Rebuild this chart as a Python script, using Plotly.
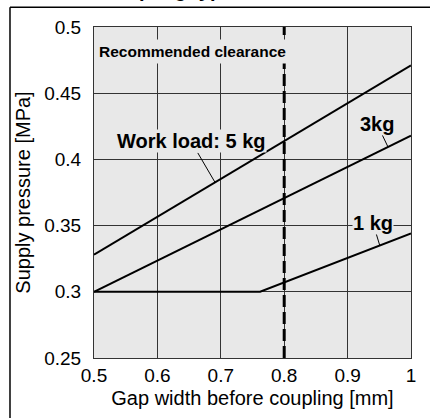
import plotly.graph_objects as go

# ---- data ----
x_5kg = [0.5, 1.0]
y_5kg = [0.328, 0.471]
x_3kg = [0.5, 1.0]
y_3kg = [0.300, 0.418]
x_1kg = [0.5, 0.762, 1.0]
y_1kg = [0.300, 0.300, 0.344]
recommended_gap = 0.8
x_ticks = [0.5, 0.6, 0.7, 0.8, 0.9, 1.0]
x_ticklabels = ["0.5", "0.6", "0.7", "0.8", "0.9", "1"]
y_ticks = [0.25, 0.3, 0.35, 0.4, 0.45, 0.5]
y_ticklabels = ["0.25", "0.3", "0.35", "0.4", "0.45", "0.5"]

FONT = "Liberation Sans, Arial, Helvetica, sans-serif"
NARROW = "Liberation Sans Narrow, Arial Narrow, Liberation Sans, sans-serif"
BG = "#e8e8e8"

fig = go.Figure()
for xs, ys in [(x_5kg, y_5kg), (x_3kg, y_3kg), (x_1kg, y_1kg)]:
    fig.add_trace(go.Scatter(x=xs, y=ys, mode="lines",
                             line=dict(color="black", width=2),
                             showlegend=False, hoverinfo="skip"))

# recommended clearance dashed line
fig.add_shape(type="line", xref="x", yref="paper", x0=recommended_gap, x1=recommended_gap,
              y0=0, y1=1, line=dict(color="black", width=3, dash="12px,5px"))

# outer frame
fig.add_shape(type="line", xref="paper", yref="paper", x0=-0.265, x1=1.1, y0=1.0597, y1=1.0597,
              line=dict(color="black", width=1.5))
fig.add_shape(type="line", xref="paper", yref="paper", x0=-0.265, x1=-0.265, y0=1.0597, y1=-0.2,
              line=dict(color="black", width=1.5))

ann_font = dict(family=FONT, size=20, color="black")
fig.add_annotation(x=0.0, xref="paper", y=0.925, yref="paper", xanchor="left", yanchor="middle",
                   text="<b>Recommended clearance</b>", showarrow=False,
                   font=dict(family=NARROW, size=15.5, color="black"), bgcolor=BG, borderpad=3, xshift=1)
fig.add_annotation(x=0.691, y=0.3826, ax=-24, ay=-41, text="<b>Work load: 5 kg</b>",
                   showarrow=True, arrowhead=0, arrowwidth=1, arrowcolor="black",
                   font=ann_font, bgcolor=BG, borderpad=0)
fig.add_annotation(x=0.9637, y=0.4094, ax=-11, ay=-23, text="<b>3kg</b>",
                   showarrow=True, arrowhead=0, arrowwidth=1, arrowcolor="black",
                   font=ann_font, bgcolor=BG, borderpad=0)
fig.add_annotation(x=0.951, y=0.3346, ax=-7, ay=-23, text="<b>1 kg</b>",
                   showarrow=True, arrowhead=0, arrowwidth=1, arrowcolor="black",
                   font=ann_font, bgcolor=BG, borderpad=0)

# title (mostly cut off at top of the picture, as in the reference)
fig.add_annotation(x=(98 - 94) / 317, xref="paper", y=1.0735, yref="paper",
                   xanchor="left", yanchor="bottom",
                   text="<b>Coupling type</b>", showarrow=False, font=ann_font)

fig.update_xaxes(range=[0.5, 1.0], tickvals=x_ticks, ticktext=x_ticklabels,
                 showgrid=True, gridcolor="#333333", gridwidth=1,
                 showline=True, linecolor="#333333", linewidth=1, mirror=True,
                 zeroline=False, ticks="", tickfont=dict(family=FONT, size=19, color="black"),
                 title=dict(text="Gap width before coupling [mm]", standoff=6,
                            font=dict(family=FONT, size=20, color="black")))
fig.update_yaxes(range=[0.25, 0.5], tickvals=y_ticks, ticktext=y_ticklabels,
                 showgrid=True, gridcolor="#333333", gridwidth=1,
                 showline=True, linecolor="#333333", linewidth=1, mirror=True,
                 zeroline=False, ticks="", ticklabelstandoff=8,
                 tickfont=dict(family=FONT, size=19, color="black"),
                 title=dict(text="Supply pressure [MPa]", standoff=8,
                            font=dict(family=FONT, size=20, color="black")))

fig.update_layout(width=430, height=418, margin=dict(l=94, r=19, t=27, b=56),
                  paper_bgcolor="white", plot_bgcolor=BG, showlegend=False)

fig.write_html("out.html", config={"displayModeBar": False},
               post_script="document.body.style.margin='0';")
